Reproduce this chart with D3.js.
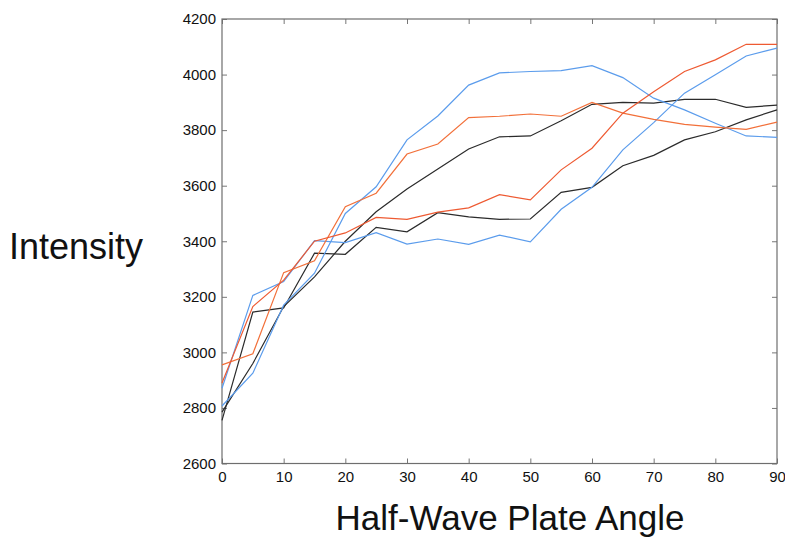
<!DOCTYPE html>
<html>
<head>
<meta charset="utf-8">
<script src="https://cdn.jsdelivr.net/npm/d3@7"></script>
<style>
  body { margin: 0; background: #fff; }
  .tick text { font-family: "Liberation Sans", Arial, sans-serif; font-size: 15px; fill: #111; }
  .tick line { stroke: #777; }
  .title { font-family: "Liberation Sans", Arial, sans-serif; fill: #111; }
</style>
</head>
<body>
<div id="chart"></div>
<script>
// chart data
const angles = [0, 5, 10, 15, 20, 25, 30, 35, 40, 45, 50, 55, 60, 65, 70, 75, 80, 85, 90];

const blueEarly = [2807, 2925, 3170, 3285, 3500, 3596, 3765, 3851, 3962, 4006, 4011, 4014, 4032, 3989, 3915, 3873, 3825, 3779, 3774];
const blueLate = [2871, 3205, 3255, 3402, 3395, 3431, 3390, 3408, 3389, 3422, 3398, 3515, 3594, 3729, 3827, 3933, 3999, 4067, 4095];
const orangeEarly = [2955, 2995, 3287, 3330, 3524, 3573, 3714, 3750, 3845, 3850, 3858, 3850, 3900, 3861, 3839, 3821, 3811, 3803, 3829];
const orangeLate = [2890, 3165, 3260, 3400, 3430, 3486, 3479, 3505, 3520, 3568, 3549, 3657, 3735, 3861, 3938, 4011, 4053, 4109, 4109];
const blackEarly = [2785, 2960, 3165, 3272, 3400, 3506, 3588, 3660, 3732, 3776, 3779, 3834, 3893, 3900, 3897, 3911, 3911, 3882, 3890];
const blackLate = [2755, 3145, 3160, 3357, 3353, 3450, 3434, 3503, 3488, 3479, 3480, 3576, 3594, 3672, 3709, 3765, 3794, 3837, 3873];

const xTicks = [0, 10, 20, 30, 40, 50, 60, 70, 80, 90];
const yTicks = [2600, 2800, 3000, 3200, 3400, 3600, 3800, 4000, 4200];

// setting up constants
const FRAME_HEIGHT = 539;
const FRAME_WIDTH = 785;
const MARGINS = {left: 222, right: 8, top: 19, bottom: 75.5};

const VIS_HEIGHT = FRAME_HEIGHT - MARGINS.top - MARGINS.bottom;
const VIS_WIDTH = FRAME_WIDTH - MARGINS.left - MARGINS.right;

const SVG = d3.select('#chart')
    .append('svg')
        .attr('height', FRAME_HEIGHT)
        .attr('width', FRAME_WIDTH);

const FRAME1 = SVG.append('g')
    .attr("transform", "translate(" + MARGINS.left + "," + MARGINS.top + ")");

const xScale = d3.scaleLinear()
    .domain([0, 90])
    .range([0, VIS_WIDTH]);

const yScale = d3.scaleLinear()
    .domain([2600, 4200])
    .range([VIS_HEIGHT, 0]);

// bottom axis with labels, ticks pointing inward
FRAME1.append("g")
    .attr("transform", "translate(0," + VIS_HEIGHT + ")")
    .call(d3.axisBottom(xScale).tickValues(xTicks).tickFormat(d3.format("d"))
        .tickSizeInner(-5).tickSizeOuter(0).tickPadding(8));

// left axis
FRAME1.append("g")
    .call(d3.axisLeft(yScale).tickValues(yTicks).tickFormat(d3.format("d"))
        .tickSizeInner(-5).tickSizeOuter(0).tickPadding(6));

// top and right: ticks only
FRAME1.append("g")
    .call(d3.axisTop(xScale).tickValues(xTicks).tickSizeInner(-5).tickSizeOuter(0).tickFormat(""));
FRAME1.append("g")
    .attr("transform", "translate(" + VIS_WIDTH + ",0)")
    .call(d3.axisRight(yScale).tickValues(yTicks).tickSizeInner(-5).tickSizeOuter(0).tickFormat(""));

FRAME1.selectAll(".domain").remove();

// box round the plot
FRAME1.append("rect")
    .attr("x", 0)
    .attr("y", 0)
    .attr("width", VIS_WIDTH)
    .attr("height", VIS_HEIGHT)
    .attr("fill", "none")
    .attr("stroke", "#6e6e6e")
    .attr("stroke-width", 1.2);

// series
const series = [
    {values: blackEarly, color: "#2b2b2b"},
    {values: blackLate, color: "#2b2b2b"},
    {values: blueEarly, color: "#5b9cec"},
    {values: blueLate, color: "#5b9cec"},
    {values: orangeEarly, color: "#f2703a"},
    {values: orangeLate, color: "#ee5a32"}
];

const line = d3.line()
    .x(function (d, i) { return xScale(angles[i]); })
    .y(function (d) { return yScale(d); });

FRAME1.append('g')
    .selectAll("path")
    .data(series)
    .enter()
    .append("path")
        .attr("d", function (d) { return line(d.values); })
        .attr("fill", "none")
        .attr("stroke", function (d) { return d.color; })
        .attr("stroke-width", 1.2);

// axis titles
SVG.append("text")
    .attr("class", "title")
    .attr("x", 76)
    .attr("y", 259)
    .attr("text-anchor", "middle")
    .attr("font-size", 36)
    .text("Intensity");

SVG.append("text")
    .attr("class", "title")
    .attr("x", 510)
    .attr("y", 530)
    .attr("text-anchor", "middle")
    .attr("font-size", 35)
    .text("Half-Wave Plate Angle");
</script>
</body>
</html>
